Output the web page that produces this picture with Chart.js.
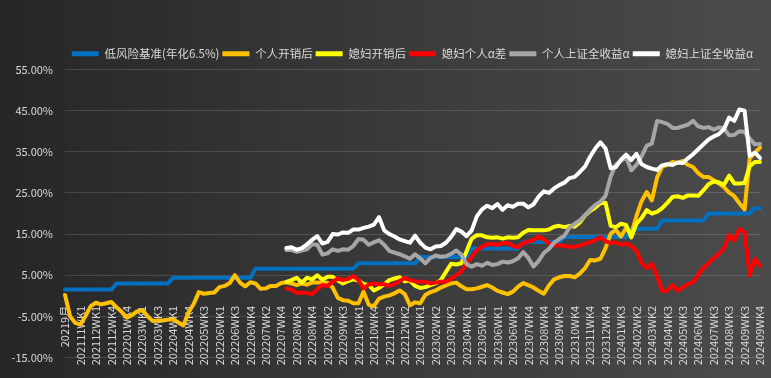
<!DOCTYPE html>
<html>
<head>
<meta charset="utf-8">
<script src="https://cdn.jsdelivr.net/npm/chart.js@4.4.1/dist/chart.umd.min.js"></script>
<style>
  html, body { margin: 0; padding: 0; }
  body {
    width: 771px; height: 378px; overflow: hidden;
    background: linear-gradient(90deg, #262626 0%, #383838 45%, #4b4b4b 100%);
  }
  #wrap { position: relative; width: 771px; height: 378px; }
</style>
</head>
<body>
<div id="wrap"><canvas id="c" width="771" height="378"></canvas></div>
<script>
// ── Tick labels shown on the category axis (one every 3 weeks) ─────────────
const tickLabels = [
  '20219月', '202111WK1', '202112WK1', '202112WK4', '202201WK4', '202203WK1',
  '202203WK3', '202204WK1', '202204WK4', '202205WK3', '202206WK1', '202206WK3',
  '202206WK4', '202207WK2', '202207WK4', '202208WK3', '202208WK4', '202209WK2',
  '202209WK3', '202210WK1', '202210WK4', '202211WK3', '202212WK2', '202301WK1',
  '202302WK2', '202303WK2', '202304WK1', '202305WK1', '202306WK1', '202306WK4',
  '202307WK4', '202308WK4', '202309WK3', '202310WK4', '202311WK4', '202312WK4',
  '202401WK3', '202402WK2', '202403WK2', '202404WK3', '202405WK3', '202406WK3',
  '202407WK3', '202408WK3', '202409WK3', '202409WK4'
];
const LABEL_EVERY = 3;

// ── Series (percent) ───────────────────────────────────────────────────────
const lowRisk = [
  1.5, 1.5, 1.5, 1.5, 1.5, 1.5, 1.5, 1.5, 1.5, 1.5,
  3.0, 3.0, 3.0, 3.0, 3.0, 3.0, 3.0, 3.0, 3.0, 3.0, 3.0,
  4.4, 4.4, 4.4, 4.4, 4.4, 4.4, 4.4, 4.4, 4.4, 4.4, 4.4, 4.4, 4.4, 4.4, 4.4, 4.4,
  6.6, 6.6, 6.6, 6.6, 6.6, 6.6, 6.6, 6.6, 6.6, 6.6, 6.6, 6.6, 6.6, 6.6, 6.6, 6.6, 6.6, 6.6, 6.6, 6.6,
  7.9, 7.9, 7.9, 7.9, 7.9, 7.9, 7.9, 7.9, 7.9, 7.9, 7.9, 7.9,
  9.4, 9.4, 9.4, 9.4, 9.4, 9.4, 9.4, 9.4, 9.4, 9.4,
  11.5, 11.5, 11.5, 11.5, 11.5, 11.5, 11.5, 11.5, 11.5, 11.5,
  13.1, 13.1, 13.1, 13.1, 13.1, 13.1, 13.1, 13.1,
  14.3, 14.3, 14.3, 14.3, 14.3, 14.3, 14.3, 14.3, 14.3, 14.3, 14.3, 14.3, 14.3,
  16.3, 16.3, 16.3, 16.3, 16.3, 16.3,
  18.3, 18.3, 18.3, 18.3, 18.3, 18.3, 18.3, 18.3, 18.3,
  20.0, 20.0, 20.0, 20.0, 20.0, 20.0, 20.0, 20.0, 20.0,
  21.3, 21.3
];

const selfNet = [
  0.2, -5.0, -6.6, -7.0, -4.9, -2.5, -1.7, -2.1, -1.8, -1.5,
  -2.8, -3.9, -5.3, -4.7, -3.8, -3.5, -4.9, -6.1, -6.0, -6.0,
  -5.8, -5.7, -6.5, -7.2, -4.0, -2.0, 0.9, 0.5, 0.7, 0.8,
  2.1, 2.4, 3.1, 5.0, 3.2, 2.3, 3.3, 3.0, 1.7, 1.8,
  2.4, 2.4, 3.1, 3.3, 3.0, 2.6, 3.0, 2.7, 3.2, 3.2,
  3.3, 3.2, 2.0, -0.5, -1.1, -1.2, -1.8, -1.8, 1.0, -2.2,
  -2.5, -0.7, -0.2, 0.1, 0.6, 1.3, 0.4, -2.3, -1.6, -1.8,
  0.2, 0.9, 1.3, 2.0, 2.5, 3.0, 3.2, 2.3, 1.6, 1.6,
  1.8, 2.2, 2.6, 2.0, 1.2, 0.8, 0.4, 1.0, 2.2, 3.1,
  2.6, 2.0, 1.2, 0.5, 2.5, 4.0, 4.5, 4.8, 4.8, 4.5,
  5.4, 6.7, 8.7, 8.6, 9.0, 11.6, 15.1, 16.0, 14.4, 16.5,
  15.0, 19.4, 23.0, 25.2, 23.2, 28.7, 31.4, 31.8, 32.5, 32.3,
  32.8, 31.8, 31.3, 29.8, 28.9, 28.9, 28.1, 27.3, 26.4, 25.1,
  24.2, 22.5, 21.0, 33.4, 34.8, 36.0
];

const wifeNet = [
  null, null, null, null, null, null, null, null, null, null,
  null, null, null, null, null, null, null, null, null, null,
  null, null, null, null, null, null, null, null, null, null,
  null, null, null, null, null, null, null, null, null, null,
  null, null, null,
  3.4, 3.8, 4.4, 3.2, 4.4, 4.0, 5.0, 3.9, 4.6, 4.6,
  3.7, 3.0, 3.6, 4.0, 3.7, 2.9, 2.6, 1.3, 1.9, 2.8,
  3.8, 4.2, 4.5, 3.5, 3.7, 2.4, 1.9, 2.1, 2.6, 3.0,
  3.8, 5.8, 7.8, 7.6, 7.9, 10.8, 13.9, 14.7, 14.7, 14.2,
  14.1, 14.2, 13.9, 14.2, 14.1, 14.2, 15.3, 16.0, 15.9, 15.9,
  15.9, 16.1, 16.8, 17.0, 16.7, 17.0, 16.8, 17.8, 19.5, 20.6,
  21.4, 22.5, 22.6, 17.0, 16.7, 17.5, 17.2, 14.2, 17.5, 18.9,
  20.8, 20.0, 20.4, 21.3, 22.6, 24.0, 24.2, 23.8, 24.4, 24.4,
  24.3, 25.6, 27.1, 27.8, 27.6, 27.0, 29.2, 27.3, 27.3, 27.4,
  31.5, 32.5, 32.5
];

const wifeAlphaGap = [
  null, null, null, null, null, null, null, null, null, null,
  null, null, null, null, null, null, null, null, null, null,
  null, null, null, null, null, null, null, null, null, null,
  null, null, null, null, null, null, null, null, null, null,
  null, null, null,
  1.8, 1.5, 0.7, 0.8, 0.7, 0.4, 1.6, 2.6, 2.4, 3.4,
  4.2, 3.8, 4.1, 4.8, 3.8, 1.8, 2.7, 3.0, 2.8, 2.8,
  2.4, 2.8, 3.6, 4.3, 3.8, 3.5, 3.4, 3.4, 3.0, 3.2,
  3.4, 3.5, 4.1, 5.0, 5.9, 7.8, 9.5, 11.1, 11.9, 12.5,
  12.6, 12.4, 12.8, 12.9, 12.1, 11.8, 12.8, 13.2, 13.5, 14.4,
  13.7, 12.8, 12.3, 12.3, 12.1, 11.9, 11.9, 12.2, 12.6, 13.0,
  13.6, 14.2, 13.3, 12.8, 13.0, 12.4, 12.7, 12.1, 10.9, 8.0,
  6.7, 7.8, 4.8, 1.1, 1.3, 2.6, 1.2, 2.1, 2.8, 3.3,
  5.1, 6.8, 7.9, 9.2, 10.2, 11.5, 14.8, 13.4, 16.2, 15.5,
  5.0, 9.0, 7.2
];

const selfIndexAlpha = [
  null, null, null, null, null, null, null, null, null, null,
  null, null, null, null, null, null, null, null, null, null,
  null, null, null, null, null, null, null, null, null, null,
  null, null, null, null, null, null, null, null, null, null,
  null, null, null,
  11.1, 11.1, 10.7, 11.0, 11.3, 12.5, 12.4, 10.0, 10.3, 11.3,
  10.9, 11.3, 11.2, 12.1, 13.8, 13.6, 12.4, 13.0, 13.5, 12.4,
  10.9, 10.5, 10.1, 9.6, 9.0, 10.1, 9.1, 7.9, 9.2, 9.8,
  9.5, 9.6, 10.2, 11.0, 10.0, 7.7, 7.1, 7.7, 7.3, 8.0,
  7.5, 7.7, 8.3, 8.1, 8.4, 9.1, 10.6, 9.2, 7.1, 8.5,
  10.4, 11.4, 12.9, 13.8, 14.6, 16.6, 17.5, 18.3, 19.6, 20.9,
  22.1, 22.9, 24.3, 29.0, 31.9, 32.8, 33.6, 30.5, 31.8, 33.9,
  36.5, 37.0, 42.5, 42.2, 41.8, 40.8, 40.8, 41.2, 41.6, 42.5,
  41.2, 40.8, 41.0, 40.4, 40.9, 40.7, 39.0, 39.1, 40.0, 39.8,
  38.2, 36.8, 36.9
];

const wifeIndexAlpha = [
  null, null, null, null, null, null, null, null, null, null,
  null, null, null, null, null, null, null, null, null, null,
  null, null, null, null, null, null, null, null, null, null,
  null, null, null, null, null, null, null, null, null, null,
  null, null, null,
  11.6, 11.8, 11.2, 11.6, 12.5, 13.6, 14.5, 12.7, 13.1, 15.0,
  14.9, 15.4, 15.3, 16.1, 16.1, 16.5, 16.8, 17.3, 19.1, 15.9,
  15.0, 14.4, 13.7, 13.3, 12.9, 14.6, 12.9, 11.7, 11.3, 12.0,
  12.1, 12.9, 14.3, 16.2, 15.6, 14.5, 15.9, 19.3, 21.0, 21.9,
  21.3, 22.3, 20.9, 22.0, 21.6, 22.4, 22.4, 21.5, 22.2, 24.1,
  25.4, 25.0, 26.1, 26.9, 27.5, 28.6, 28.9, 30.1, 31.4, 33.8,
  35.8, 37.3, 35.8, 31.0, 31.3, 33.1, 34.3, 33.0, 34.5, 32.0,
  31.3, 30.9, 30.6, 31.7, 32.0, 31.8, 32.4, 32.3, 33.4, 34.4,
  35.6, 36.8, 38.0, 38.7, 39.3, 40.5, 43.3, 42.5, 45.3, 45.0,
  34.0, 34.8, 33.5
];

// One category per data point; only every third one carries a visible label
const weeks = selfNet.map((_, i) => (i % LABEL_EVERY === 0 ? tickLabels[i / LABEL_EVERY] : ''));

// ── Style tokens ──────────────────────────────────────────────────────────
const TEXT   = '#d9d9d9';
const GRID   = 'rgba(255,255,255,0.14)';
const CJK    = '"Noto Sans CJK SC", "Noto Sans", sans-serif';
const NARROW = '"Liberation Sans Narrow", "Noto Sans CJK SC", sans-serif';

function line(label, data, color, order) {
  return {
    label, data,
    borderColor: color,
    backgroundColor: color,
    borderWidth: 4,
    pointRadius: 0,
    tension: 0,
    fill: false,
    spanGaps: false,
    borderJoinStyle: 'round',
    borderCapStyle: 'round',
    order,            // later series sit on top, as in the source sheet
  };
}

// Category labels hang below the 0% line, reading bottom-to-top
const xLabelPlugin = {
  id: 'xLabels',
  beforeDatasetsDraw(chart) {
    const { ctx, scales: { x, y } } = chart;
    const top = y.getPixelForValue(0) + 10;
    ctx.save();
    ctx.font = '11px ' + NARROW;
    ctx.fillStyle = TEXT;
    ctx.textAlign = 'right';
    ctx.textBaseline = 'middle';
    weeks.forEach((lab, i) => {
      if (!lab) return;
      ctx.save();
      ctx.translate(x.getPixelForValue(i), top);
      ctx.rotate(-Math.PI / 2);
      ctx.fillText(lab, 0, 0);
      ctx.restore();
    });
    ctx.restore();
  },
};

new Chart(document.getElementById('c'), {
  type: 'line',
  data: {
    labels: weeks,
    datasets: [
      line('低风险基准(年化6.5%)', lowRisk,        '#0070c0', 6),
      line('个人开销后',           selfNet,        '#ffc000', 5),
      line('媳妇开销后',           wifeNet,        '#ffff00', 4),
      line('媳妇个人α差',          wifeAlphaGap,   '#ff0000', 3),
      line('个人上证全收益α',      selfIndexAlpha, '#a6a6a6', 2),
      line('媳妇上证全收益α',      wifeIndexAlpha, '#ffffff', 1),
    ],
  },
  options: {
    responsive: false,
    animation: false,
    layout: { padding: { top: 35, right: 11, left: 0, bottom: 0 } },
    plugins: {
      tooltip: { enabled: false },
      legend: {
        position: 'top',
        fullSize: false,
        labels: {
          color: TEXT,
          font: { family: CJK, size: 11.5 },
          boxWidth: 27,
          boxHeight: 5,
          padding: 3,
          sort: (a, b) => a.datasetIndex - b.datasetIndex,
          generateLabels: chart =>
            Chart.defaults.plugins.legend.labels.generateLabels(chart)
              .map(it => Object.assign(it, { lineWidth: 0, fillStyle: it.strokeStyle })),
        },
      },
    },
    scales: {
      x: { display: false },
      y: {
        min: -15,
        max: 55,
        ticks: {
          stepSize: 10,
          color: TEXT,
          padding: 12,
          font: { family: CJK, size: 11 },
          callback: v => v.toFixed(2) + '%',
        },
        grid: { color: GRID, drawTicks: false },
        border: { display: false },
        afterFit(scale) {
          scale.width = 65;
          scale.paddingTop = 69.5;
          scale.paddingBottom = 20.5;
        },
      },
    },
  },
  plugins: [xLabelPlugin],
});
</script>
</body>
</html>
